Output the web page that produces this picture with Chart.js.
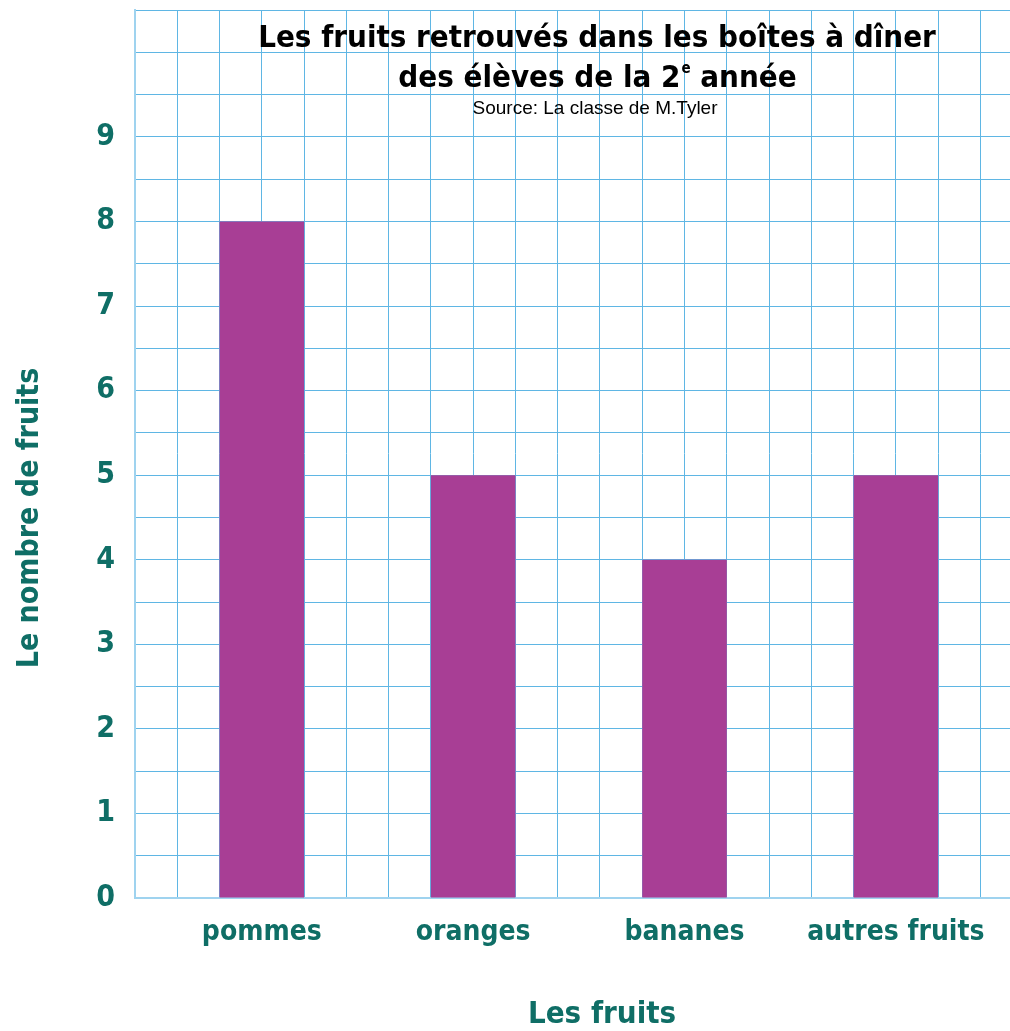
<!DOCTYPE html>
<html lang="fr">
<head>
<meta charset="utf-8">
<script src="https://cdn.jsdelivr.net/npm/chart.js@4/dist/chart.umd.min.js"></script>
<style>
  html, body { margin: 0; padding: 0; background: #fff; }
  #wrap { width: 1010px; height: 1031px; position: relative; }
</style>
</head>
<body>
<div id="wrap"><canvas id="fruitChart"></canvas></div>
<script>
// Données du graphique
const categories = ['pommes', 'oranges', 'bananes', 'autres fruits'];
const fruitCounts = [8, 5, 4, 5];
const yTickLabels = ['0', '1', '2', '3', '4', '5', '6', '7', '8', '9'];

const titleLines = ['Les fruits retrouvés dans les boîtes à dîner', 'des élèves de la 2', 'e', ' année'];
const subtitle = 'Source: La classe de M.Tyler';
const yTitle = 'Le nombre de fruits';
const xTitle = 'Les fruits';

const teal = '#0f6e66';
const gridBlue = '#5fb6e4';
const handFont = '"Comic Sans MS", "DejaVu Sans Condensed", "DejaVu Sans", sans-serif';

// chaque catégorie occupe 5 colonnes du quadrillage, la barre est centrée sur la 3e
const points = categories.map((c, i) => ({ x: 3 + 5 * i, y: fruitCounts[i] }));

// textes dessinés par-dessus le quadrillage
const overlayText = {
  id: 'overlayText',
  afterDraw(chart) {
    const ctx = chart.ctx;
    ctx.save();
    ctx.fillStyle = '#000';
    ctx.textBaseline = 'middle';
    ctx.textAlign = 'center';
    const bigFont = 'bold 31px ' + handFont;
    const supFont = 'bold 15px ' + handFont;
    ctx.font = bigFont;
    ctx.fillText(titleLines[0], 597, 39);

    // 2e ligne avec l'exposant
    const w1 = ctx.measureText(titleLines[1]).width;
    const w3 = ctx.measureText(titleLines[3]).width;
    ctx.font = supFont;
    const w2 = ctx.measureText(titleLines[2]).width;
    let x = 597 - (w1 + w2 + w3) / 2;
    ctx.textAlign = 'left';
    ctx.font = bigFont;
    ctx.fillText(titleLines[1], x, 79);
    x += w1 + 1;
    ctx.font = supFont;
    ctx.fillText(titleLines[2], x, 69);
    x += w2;
    ctx.font = bigFont;
    ctx.fillText(titleLines[3], x, 79);

    ctx.textAlign = 'center';
    ctx.font = '19px "Liberation Sans", Arial, sans-serif';
    ctx.fillText(subtitle, 595, 109);

    ctx.fillStyle = teal;
    ctx.font = 'bold 31px ' + handFont;
    ctx.fillText(xTitle, 602, 1015);

    ctx.translate(30, 518);
    ctx.rotate(-Math.PI / 2);
    ctx.font = 'bold 30px ' + handFont;
    ctx.fillText(yTitle, 0, 0);
    ctx.restore();
  }
};

new Chart(document.getElementById('fruitChart'), {
  type: 'bar',
  data: {
    datasets: [{
      label: 'Nombre de fruits',
      data: points,
      backgroundColor: '#a83e95',
      borderWidth: 0,
      barPercentage: 2.0,
      categoryPercentage: 1.0
    }]
  },
  options: {
    responsive: true,
    maintainAspectRatio: false,
    animation: false,
    layout: { padding: { top: 10, right: 0, left: 0, bottom: 0 } },
    plugins: {
      legend: { display: false },
      tooltip: { enabled: false }
    },
    scales: {
      x: {
        type: 'linear',
        min: 0,
        max: 20.7,
        bounds: 'data',
        offset: false,
        afterFit(scale) {
          scale.height = 133;
          scale.paddingLeft = 0;
          scale.paddingRight = 0;
        },
        grid: { color: gridBlue, lineWidth: 1, drawTicks: false, offset: false },
        border: { color: '#9fd3ef', width: 2 },
        ticks: {
          stepSize: 1,
          autoSkip: false,
          includeBounds: false,
          maxRotation: 0,
          padding: 18,
          color: teal,
          font: { family: handFont, size: 28, weight: 'bold' },
          callback(v) {
            const i = (v - 3) / 5;
            return Number.isInteger(i) && categories[i] ? categories[i] : '';
          }
        }
      },
      y: {
        min: 0,
        max: 10.5,
        bounds: 'data',
        afterFit(scale) {
          scale.width = 135;
          scale.paddingTop = 0;
          scale.paddingBottom = 0;
        },
        grid: { color: gridBlue, lineWidth: 1, drawTicks: false },
        border: { color: '#9fd3ef', width: 2 },
        ticks: {
          stepSize: 0.5,
          autoSkip: false,
          padding: 20,
          color: teal,
          font: { family: handFont, size: 30, weight: 'bold' },
          callback(v) {
            return Number.isInteger(v) && yTickLabels[v] ? yTickLabels[v] : '';
          }
        }
      }
    }
  },
  plugins: [overlayText]
});
</script>
</body>
</html>
